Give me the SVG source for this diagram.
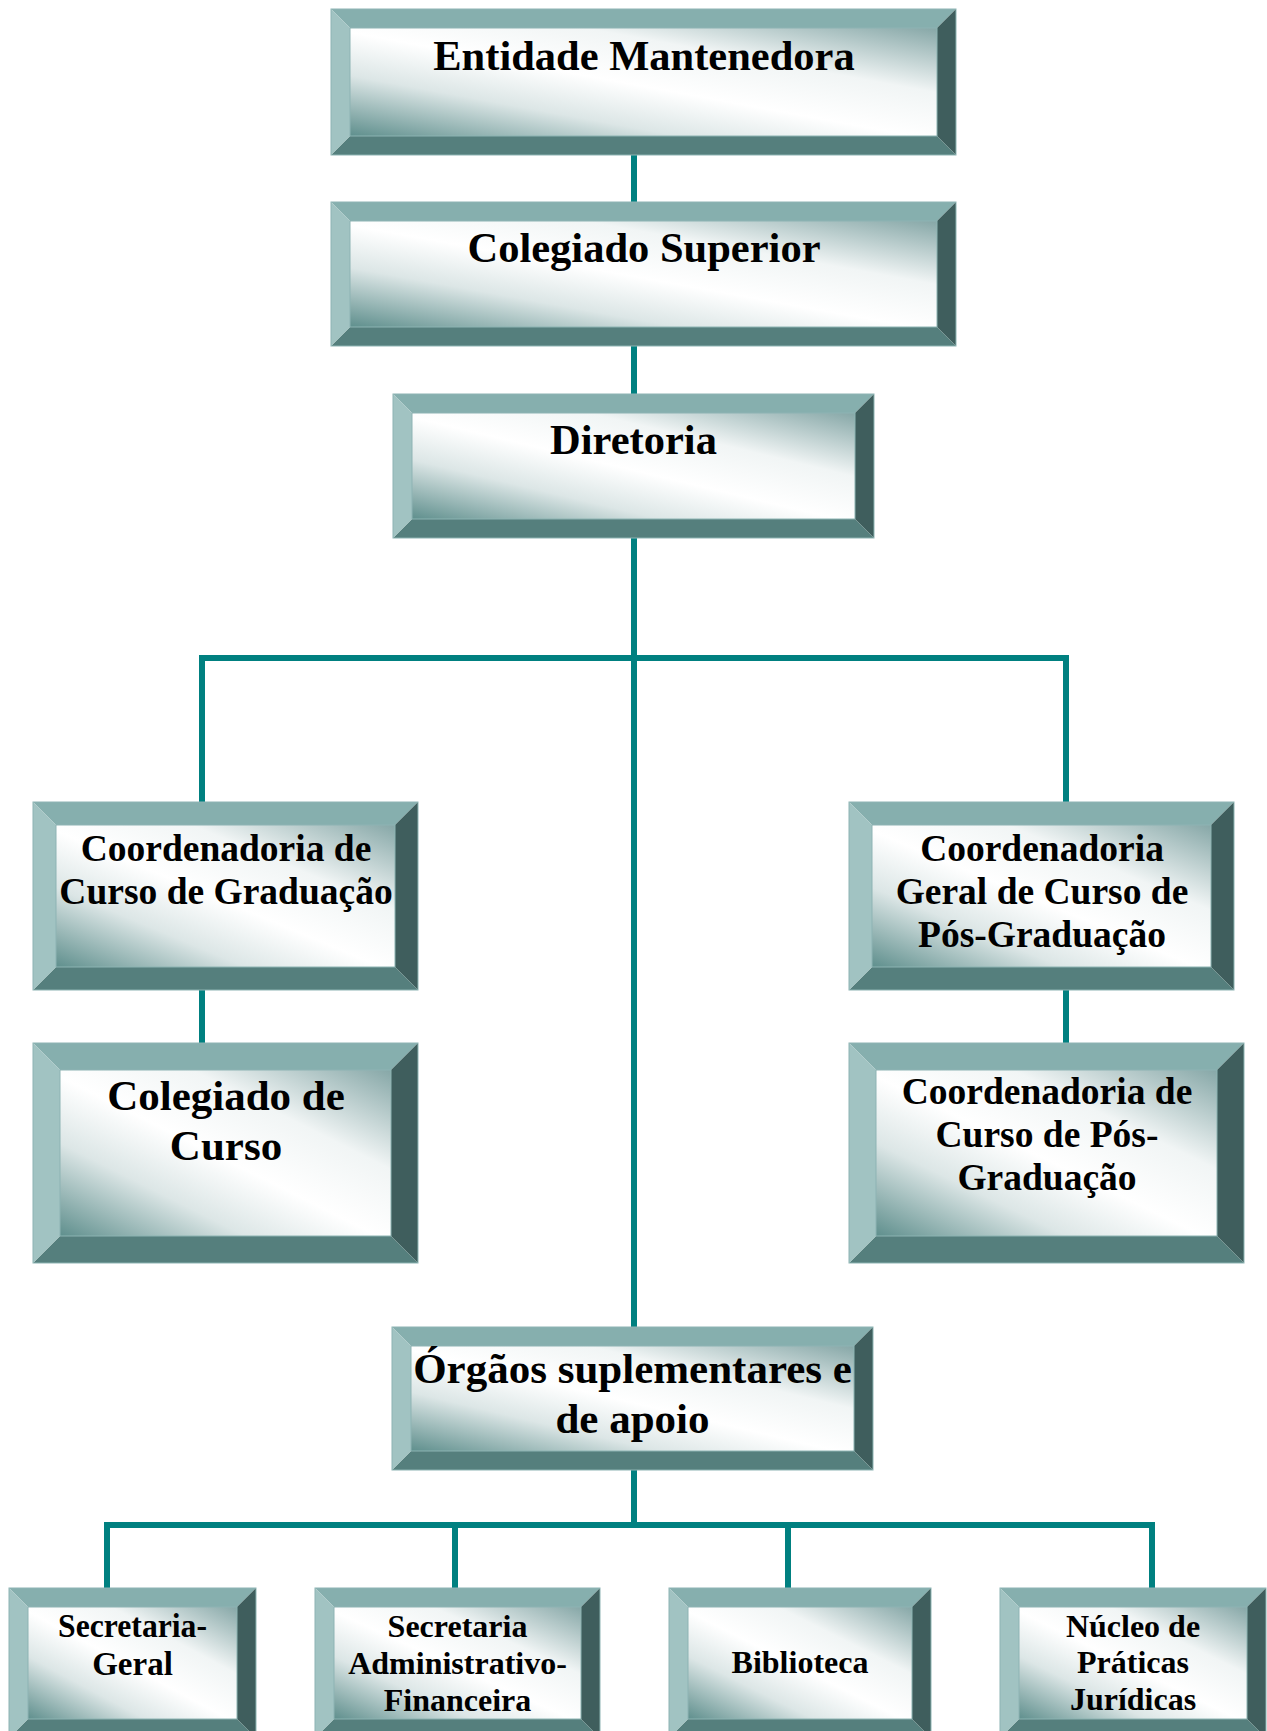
<svg xmlns="http://www.w3.org/2000/svg" width="1267" height="1731" viewBox="0 0 1267 1731">
<defs>
<linearGradient id="face" x1="0" y1="1" x2="1" y2="0">
<stop offset="0" stop-color="#5F8F8D"/>
<stop offset="0.28" stop-color="#DCE6E6"/>
<stop offset="0.48" stop-color="#FFFFFF"/>
<stop offset="0.7" stop-color="#F1F5F5"/>
<stop offset="1" stop-color="#86A7A7"/>
</linearGradient>
<style>
.t{fill:#86AFAE}
.l{fill:#A1C3C2}
.r{fill:#3F5E5D}
.b{fill:#557F7D}
.f{fill:url(#face);stroke:#8DB4B3;stroke-width:1}
.o{fill:none;stroke:#8DB4B3;stroke-width:1}
.c{fill:none;stroke:#008080;stroke-width:6}
text{font-family:"Liberation Serif","Times New Roman",serif;font-weight:bold;fill:#000;text-anchor:middle}
.s43{font-size:43px}
.s42{font-size:42.5px}
.s37{font-size:37.5px}
.s33{font-size:33px}
.s32{font-size:32px}
</style>
</defs>
<rect width="1267" height="1731" fill="#fff"/>
<g id="connectors">
<path class="c" d="M634,155 V202"/>
<path class="c" d="M634,346 V394"/>
<path class="c" d="M634,538 V1327"/>
<path class="c" d="M202,802 V658 H1066 V802"/>
<path class="c" d="M202,990 V1043"/>
<path class="c" d="M1066,990 V1043"/>
<path class="c" d="M634,1470 V1525"/>
<path class="c" d="M107,1588 V1525 H1152 V1588"/>
<path class="c" d="M455,1525 V1588"/>
<path class="c" d="M788,1525 V1588"/>
</g>
<g id="n1">
<polygon class="t" points="331,9 956,9 937,28 350,28"/>
<polygon class="r" points="956,9 956,155 937,136 937,28"/>
<polygon class="b" points="331,155 956,155 937,136 350,136"/>
<polygon class="l" points="331,9 331,155 350,136 350,28"/>
<rect class="f" x="350" y="28" width="587" height="108"/>
<rect class="o" x="331" y="9" width="625" height="146"/>
<text class="s42" x="644" y="70">Entidade Mantenedora</text>
</g>
<g id="n2">
<polygon class="t" points="331,202 956,202 937,221 350,221"/>
<polygon class="r" points="956,202 956,346 937,327 937,221"/>
<polygon class="b" points="331,346 956,346 937,327 350,327"/>
<polygon class="l" points="331,202 331,346 350,327 350,221"/>
<rect class="f" x="350" y="221" width="587" height="106"/>
<rect class="o" x="331" y="202" width="625" height="144"/>
<text class="s42" x="644" y="262">Colegiado Superior</text>
</g>
<g id="n3">
<polygon class="t" points="393,394 874,394 855,413 412,413"/>
<polygon class="r" points="874,394 874,538 855,519 855,413"/>
<polygon class="b" points="393,538 874,538 855,519 412,519"/>
<polygon class="l" points="393,394 393,538 412,519 412,413"/>
<rect class="f" x="412" y="413" width="443" height="106"/>
<rect class="o" x="393" y="394" width="481" height="144"/>
<text class="s42" x="633.5" y="454">Diretoria</text>
</g>
<g id="n4">
<polygon class="t" points="33,802 418,802 395,825 56,825"/>
<polygon class="r" points="418,802 418,990 395,967 395,825"/>
<polygon class="b" points="33,990 418,990 395,967 56,967"/>
<polygon class="l" points="33,802 33,990 56,967 56,825"/>
<rect class="f" x="56" y="825" width="339" height="142"/>
<rect class="o" x="33" y="802" width="385" height="188"/>
<text class="s37" x="226" y="861">Coordenadoria de</text>
<text class="s37" x="226" y="904">Curso de Graduação</text>
</g>
<g id="n5">
<polygon class="t" points="33,1043 418,1043 391,1070 60,1070"/>
<polygon class="r" points="418,1043 418,1263 391,1236 391,1070"/>
<polygon class="b" points="33,1263 418,1263 391,1236 60,1236"/>
<polygon class="l" points="33,1043 33,1263 60,1236 60,1070"/>
<rect class="f" x="60" y="1070" width="331" height="166"/>
<rect class="o" x="33" y="1043" width="385" height="220"/>
<text class="s43" x="226" y="1110">Colegiado de</text>
<text class="s43" x="226" y="1160">Curso</text>
</g>
<g id="n6">
<polygon class="t" points="849,802 1234,802 1211,825 872,825"/>
<polygon class="r" points="1234,802 1234,990 1211,967 1211,825"/>
<polygon class="b" points="849,990 1234,990 1211,967 872,967"/>
<polygon class="l" points="849,802 849,990 872,967 872,825"/>
<rect class="f" x="872" y="825" width="339" height="142"/>
<rect class="o" x="849" y="802" width="385" height="188"/>
<text class="s37" x="1042" y="861">Coordenadoria</text>
<text class="s37" x="1042" y="904">Geral de Curso de</text>
<text class="s37" x="1042" y="947">Pós-Graduação</text>
</g>
<g id="n7">
<polygon class="t" points="849,1043 1244,1043 1217,1070 876,1070"/>
<polygon class="r" points="1244,1043 1244,1263 1217,1236 1217,1070"/>
<polygon class="b" points="849,1263 1244,1263 1217,1236 876,1236"/>
<polygon class="l" points="849,1043 849,1263 876,1236 876,1070"/>
<rect class="f" x="876" y="1070" width="341" height="166"/>
<rect class="o" x="849" y="1043" width="395" height="220"/>
<text class="s37" x="1047" y="1104">Coordenadoria de</text>
<text class="s37" x="1047" y="1147">Curso de Pós-</text>
<text class="s37" x="1047" y="1190">Graduação</text>
</g>
<g id="n8">
<polygon class="t" points="392,1327 873,1327 854,1346 411,1346"/>
<polygon class="r" points="873,1327 873,1470 854,1451 854,1346"/>
<polygon class="b" points="392,1470 873,1470 854,1451 411,1451"/>
<polygon class="l" points="392,1327 392,1470 411,1451 411,1346"/>
<rect class="f" x="411" y="1346" width="443" height="105"/>
<rect class="o" x="392" y="1327" width="481" height="143"/>
<text class="s43" x="632.5" y="1383">Órgãos suplementares e</text>
<text class="s43" x="632.5" y="1433">de apoio</text>
</g>
<g id="n9">
<polygon class="t" points="9,1588 256,1588 237,1607 28,1607"/>
<polygon class="r" points="256,1588 256,1738 237,1719 237,1607"/>
<polygon class="b" points="9,1738 256,1738 237,1719 28,1719"/>
<polygon class="l" points="9,1588 9,1738 28,1719 28,1607"/>
<rect class="f" x="28" y="1607" width="209" height="112"/>
<rect class="o" x="9" y="1588" width="247" height="150"/>
<text class="s33" x="132.5" y="1637" textLength="149" lengthAdjust="spacingAndGlyphs">Secretaria-</text>
<text class="s33" x="132.5" y="1675">Geral</text>
</g>
<g id="n10">
<polygon class="t" points="315,1588 600,1588 581,1607 334,1607"/>
<polygon class="r" points="600,1588 600,1738 581,1719 581,1607"/>
<polygon class="b" points="315,1738 600,1738 581,1719 334,1719"/>
<polygon class="l" points="315,1588 315,1738 334,1719 334,1607"/>
<rect class="f" x="334" y="1607" width="247" height="112"/>
<rect class="o" x="315" y="1588" width="285" height="150"/>
<text class="s32" x="457.5" y="1637">Secretaria</text>
<text class="s32" x="457.5" y="1674">Administrativo-</text>
<text class="s32" x="457.5" y="1711">Financeira</text>
</g>
<g id="n11">
<polygon class="t" points="669,1588 931,1588 912,1607 688,1607"/>
<polygon class="r" points="931,1588 931,1738 912,1719 912,1607"/>
<polygon class="b" points="669,1738 931,1738 912,1719 688,1719"/>
<polygon class="l" points="669,1588 669,1738 688,1719 688,1607"/>
<rect class="f" x="688" y="1607" width="224" height="112"/>
<rect class="o" x="669" y="1588" width="262" height="150"/>
<text class="s32" x="800" y="1673">Biblioteca</text>
</g>
<g id="n12">
<polygon class="t" points="1000,1588 1266,1588 1247,1607 1019,1607"/>
<polygon class="r" points="1266,1588 1266,1738 1247,1719 1247,1607"/>
<polygon class="b" points="1000,1738 1266,1738 1247,1719 1019,1719"/>
<polygon class="l" points="1000,1588 1000,1738 1019,1719 1019,1607"/>
<rect class="f" x="1019" y="1607" width="228" height="112"/>
<rect class="o" x="1000" y="1588" width="266" height="150"/>
<text class="s32" x="1133" y="1637">Núcleo de</text>
<text class="s32" x="1133" y="1673">Práticas</text>
<text class="s32" x="1133" y="1710">Jurídicas</text>
</g>
</svg>
